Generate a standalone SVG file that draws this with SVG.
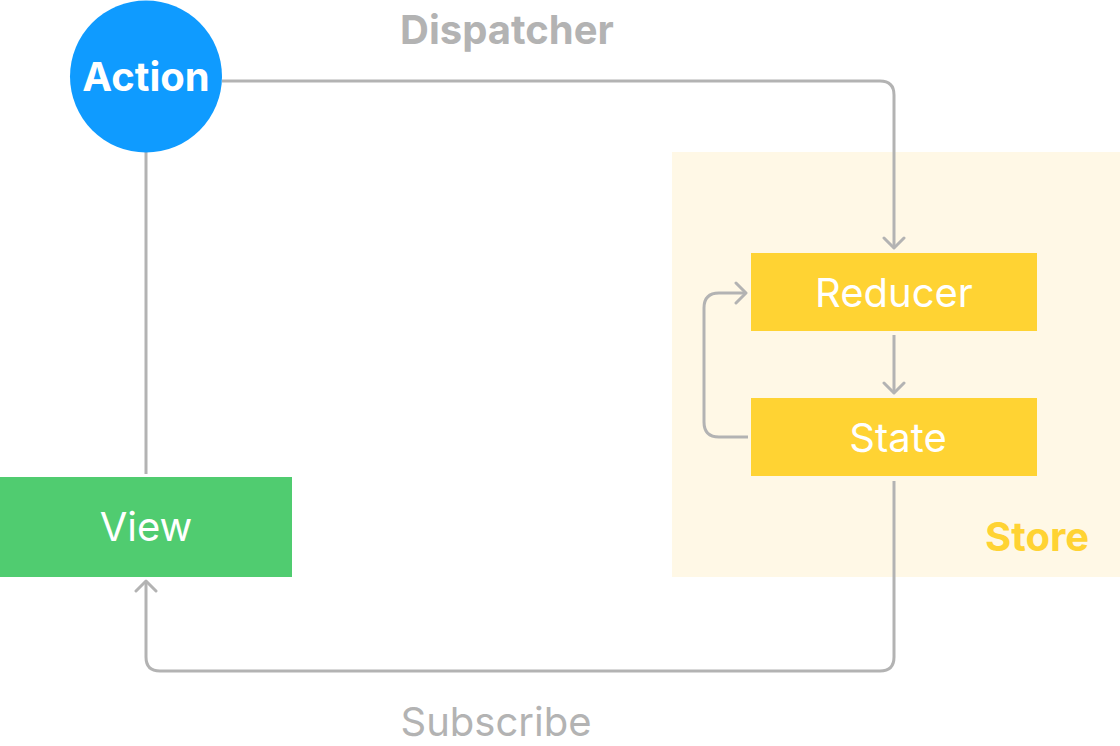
<svg xmlns="http://www.w3.org/2000/svg" width="1120" height="746" viewBox="0 0 1120 746">
<style>
.lbl{font-family:Inter,"Noto Sans","Liberation Sans",sans-serif;font-size:40px;text-anchor:middle}
.w{fill:#ffffff}
.g{fill:#b3b3b3}
.conn{fill:none;stroke:#b3b3b3;stroke-width:3}
</style>
<defs>
<marker id="arr" markerUnits="userSpaceOnUse" markerWidth="24" markerHeight="24" viewBox="-12 -12 24 24" refX="0" refY="0" orient="auto">
<path d="M-10,-10 L0,0 L-10,10" fill="none" stroke="#b3b3b3" stroke-width="3" stroke-linecap="round" stroke-linejoin="round"/>
</marker>
</defs>
<rect width="1120" height="746" fill="#ffffff"/>
<g id="store">
<rect x="672" y="152" width="448" height="425" fill="#fff8e6"/>
<text class="lbl" x="1037" y="551" font-weight="700" fill="#ffd333">Store</text>
</g>
<g id="connectors">
<path class="conn" d="M222,81 H880 Q894,81 894,95 V248" marker-end="url(#arr)"/>
<path class="conn" d="M894,335 V393" marker-end="url(#arr)"/>
<path class="conn" d="M748,437 H719 Q704,437 704,422 V308 Q704,293 719,293 H746" marker-end="url(#arr)"/>
<path class="conn" d="M146,152 V474"/>
<path class="conn" d="M894,481 V657 Q894,671 880,671 H160 Q146,671 146,657 V581" marker-end="url(#arr)"/>
<text class="lbl g" x="507" y="44" font-weight="700">Dispatcher</text>
<text class="lbl g" x="496" y="736">Subscribe</text>
</g>
<g id="action">
<circle cx="146" cy="76.5" r="76" fill="#0f9bff"/>
<text class="lbl w" x="146" y="91" font-weight="700">Action</text>
</g>
<g id="reducer">
<rect x="751" y="253" width="286" height="78" fill="#ffd333"/>
<text class="lbl w" x="894" y="307">Reducer</text>
</g>
<g id="state">
<rect x="751" y="398" width="286" height="78" fill="#ffd333"/>
<text class="lbl w" x="898" y="452">State</text>
</g>
<g id="view">
<rect x="0" y="477" width="292" height="100" fill="#50cc70"/>
<text class="lbl w" x="146" y="541">View</text>
</g>
</svg>
